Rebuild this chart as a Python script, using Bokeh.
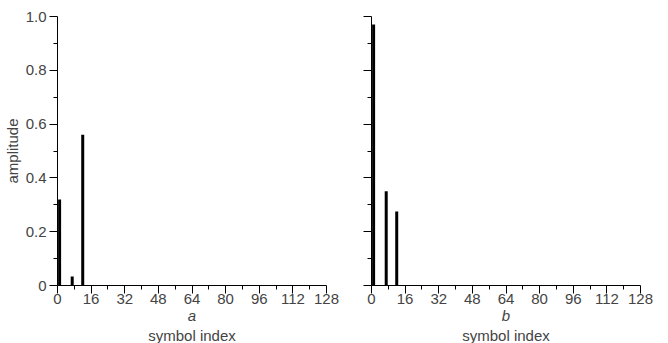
from bokeh.plotting import figure
from bokeh.layouts import row
from bokeh.models import FixedTicker, LinearAxis, Range1d
from bokeh.embed import file_html
from bokeh.resources import INLINE

# data
idx_a = [1, 7, 12]
amp_a = [0.32, 0.033, 0.56]
idx_b = [1, 7, 12]
amp_b = [0.97, 0.35, 0.275]
x_ticks = [0, 16, 32, 48, 64, 80, 96, 112, 128]
x_minor = [8, 24, 40, 56, 72, 88, 104, 120]
y_ticks = [0, 0.2, 0.4, 0.6, 0.8, 1.0]
y_minor = [0.1, 0.3, 0.5, 0.7, 0.9]
y_labels = {0: "0", 0.2: "0.2", 0.4: "0.4", 0.6: "0.6", 0.8: "0.8", 1.0: "1.0"}
x_title = "symbol index"

FONT = "Liberation Sans"
FS = "15px"


def make(idx, amp, letter, show_y, bl, br):
    p = figure(frame_width=269, frame_height=269, output_backend="svg",
               toolbar_location=None, x_range=Range1d(0, 128), y_range=Range1d(0, 1.0),
               min_border_left=bl, min_border_right=br, min_border_top=16, min_border_bottom=0)
    p.outline_line_color = None
    p.grid.visible = False
    p.segment(x0=idx, y0=[0] * len(idx), x1=idx, y1=amp, line_width=3, line_color="black")

    xa = p.xaxis[0]
    xa.ticker = FixedTicker(ticks=x_ticks, minor_ticks=x_minor)
    xa.major_tick_out = 8
    xa.major_tick_in = 0
    xa.minor_tick_out = 4
    xa.minor_tick_in = 0
    xa.major_label_text_font = FONT
    xa.major_label_text_font_size = FS
    xa.major_label_standoff = 0
    xa.axis_line_color = "black"
    xa.axis_label = letter
    xa.axis_label_text_font = FONT
    xa.axis_label_text_font_size = FS
    xa.axis_label_text_font_style = "italic"
    xa.axis_label_standoff = 0

    xb = LinearAxis(ticker=FixedTicker(ticks=[]), axis_line_color=None,
                    major_tick_out=0, major_tick_in=0, minor_tick_out=0, minor_tick_in=0,
                    major_label_standoff=0, major_label_text_font_size="0px",
                    axis_label=x_title, axis_label_text_font=FONT, axis_label_text_font_size=FS,
                    axis_label_text_font_style="normal", axis_label_standoff=0)
    p.add_layout(xb, "below")

    ya = p.yaxis[0]
    ya.ticker = FixedTicker(ticks=y_ticks, minor_ticks=y_minor)
    ya.major_tick_out = 8
    ya.major_tick_in = 0
    ya.minor_tick_out = 4
    ya.minor_tick_in = 0
    ya.major_label_text_font = FONT
    ya.major_label_text_font_size = FS
    ya.major_label_overrides = y_labels
    ya.major_label_standoff = 3
    if show_y:
        ya.axis_label = "amplitude"
        ya.axis_label_text_font = FONT
        ya.axis_label_text_font_size = FS
        ya.axis_label_text_font_style = "normal"
        ya.axis_label_standoff = 2
    else:
        ya.major_label_text_color = None
    return p


p1 = make(idx_a, amp_a, "a", True, 56, 17)
p2 = make(idx_b, amp_b, "b", False, 28, 18)
layout = row(p1, p2)
open("out.html", "w").write(file_html(layout, INLINE))
